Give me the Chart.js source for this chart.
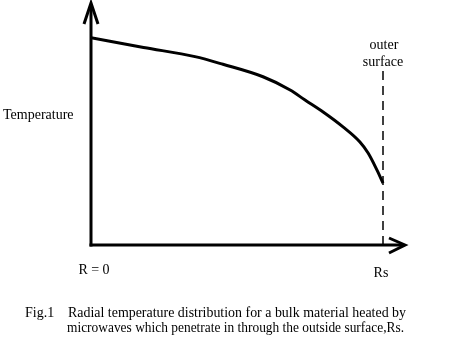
<!DOCTYPE html>
<html>
<head>
<meta charset="utf-8">
<script src="https://cdn.jsdelivr.net/npm/chart.js@4/dist/chart.umd.min.js"></script>
<style>
html,body{margin:0;padding:0;background:#fff;}
#wrap{width:454px;height:356px;position:relative;}
</style>
</head>
<body>
<div id="wrap"><canvas id="c" width="454" height="356"></canvas></div>
<script>
// Radius (fraction of Rs) and temperature (arbitrary units)
const radius      = [0,    0.18, 0.356, 0.452, 0.589, 0.682, 0.733, 0.795, 0.863, 0.921, 0.949, 0.979, 1.0];
const temperature = [86.4, 82.3, 78.5,  75.3,  70.1,  64.6,  60.4,  55.4,  49.2,  42.9,  38.3,  31.3,  25.8];
// outer surface marker
const surfaceR = [1.0, 1.0];
const surfaceT = [0, 74];
const labels = {
  yTitle: 'Temperature',
  xStart: 'R = 0',
  xEnd: 'Rs',
  surface: ['outer', 'surface'],
  caption1a: 'Fig.1',
  caption1b: 'Radial temperature distribution for a bulk material heated by',
  caption2: 'microwaves which penetrate in through the outside surface,Rs.'
};

const FONT = '14px "Liberation Serif", "Times New Roman", serif';

const decor = {
  id: 'decor',
  beforeDraw(chart) {
    const ctx = chart.ctx;
    ctx.save();
    ctx.fillStyle = '#fff';
    ctx.fillRect(0, 0, chart.width, chart.height);
    ctx.restore();
  },
  afterDraw(chart) {
    const ctx = chart.ctx;
    const xs = chart.scales.x, ys = chart.scales.y;
    const x0 = xs.getPixelForValue(0);
    const y0 = ys.getPixelForValue(0);
    const xTip = xs.right, yTip = ys.top;
    ctx.save();
    ctx.strokeStyle = '#000';
    ctx.lineWidth = 3;
    ctx.lineCap = 'butt';
    // y axis
    ctx.beginPath();
    ctx.moveTo(x0, y0 + 1.5);
    ctx.lineTo(x0, yTip + 2);
    ctx.stroke();
    ctx.beginPath();
    ctx.moveTo(x0 - 7, yTip + 21);
    ctx.lineTo(x0, yTip);
    ctx.lineTo(x0 + 7, yTip + 21);
    ctx.stroke();
    // x axis
    ctx.beginPath();
    ctx.moveTo(x0 - 1.5, y0);
    ctx.lineTo(xTip - 2, y0);
    ctx.stroke();
    ctx.beginPath();
    ctx.moveTo(xTip - 16, y0 - 7);
    ctx.lineTo(xTip, y0);
    ctx.lineTo(xTip - 16, y0 + 8);
    ctx.stroke();

    // texts
    ctx.fillStyle = '#000';
    ctx.font = FONT;
    ctx.textBaseline = 'middle';
    ctx.textAlign = 'left';
    ctx.fillText(labels.yTitle, 3, 115);
    ctx.textAlign = 'center';
    ctx.fillText(labels.xStart, x0 + 3, 270);
    const xs1 = xs.getPixelForValue(1);
    ctx.fillText(labels.xEnd, xs1 - 2, 273);
    ctx.fillText(labels.surface[0], xs1 + 1, 45);
    ctx.fillText(labels.surface[1], xs1, 62);
    ctx.textAlign = 'left';
    ctx.fillText(labels.caption1a, 25, 313);
    ctx.fillText(labels.caption1b, 68, 313, 338);
    ctx.fillText(labels.caption2, 67, 328, 337);
    ctx.restore();
  }
};

new Chart(document.getElementById('c'), {
  type: 'scatter',
  data: {
    datasets: [
      {
        data: radius.map((r, i) => ({x: r, y: temperature[i]})),
        showLine: true,
        borderColor: '#000',
        borderWidth: 3,
        pointRadius: 0,
        cubicInterpolationMode: 'monotone',
        fill: false
      },
      {
        data: surfaceR.map((r, i) => ({x: r, y: surfaceT[i]})),
        showLine: true,
        borderColor: '#000',
        borderWidth: 1.5,
        borderDash: [9, 6],
        pointRadius: 0,
        fill: false
      }
    ]
  },
  options: {
    responsive: false,
    animation: false,
    events: [],
    layout: { padding: { left: 91, right: 49, top: 3, bottom: 111 } },
    plugins: { legend: { display: false }, tooltip: { enabled: false }, title: { display: false } },
    scales: {
      x: { type: 'linear', min: 0, max: 314 / 292, display: false },
      y: { type: 'linear', min: 0, max: 242 / 2.4, display: false }
    }
  },
  plugins: [decor]
});
</script>
</body>
</html>
